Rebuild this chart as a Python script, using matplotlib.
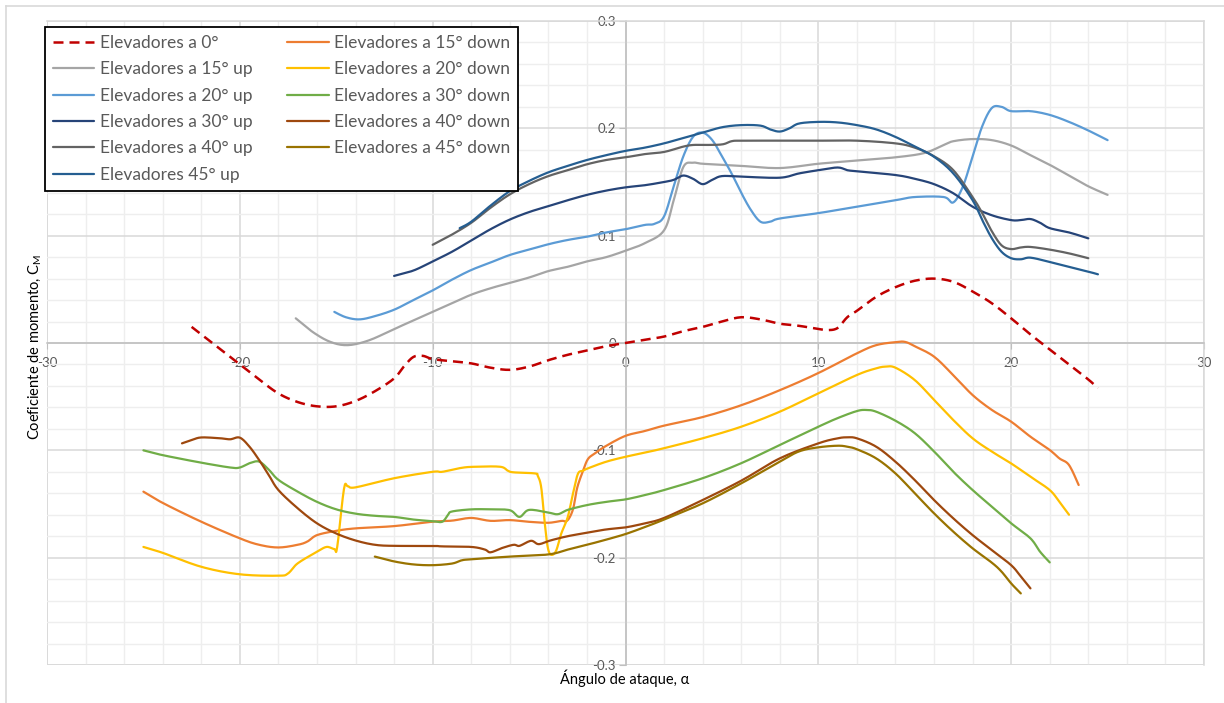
import numpy as np
import matplotlib
matplotlib.use("Agg")
import matplotlib.pyplot as plt
from matplotlib.lines import Line2D
from matplotlib.ticker import MultipleLocator, FuncFormatter

plt.rcParams['font.family'] = ['Lato', 'DejaVu Sans']

# ---- Moment coefficient vs angle of attack, one series per elevator deflection ----
a_0 = [-22.5, -21, -20, -19, -18, -17, -16, -15, -14, -13, -12, -11.5, -11, -10.5, -10, -9, -8, -7, -6, -5,
       -4, -3, -2, -1, 0, 1, 2, 3, 4, 5, 6, 7, 8, 9, 10, 10.5, 11, 11.5, 12, 13, 14, 15, 16, 17, 18, 19,
       20, 21, 22, 23, 24, 24.5]
cm_0 = [0.015, -0.006, -0.020, -0.034, -0.047, -0.055, -0.059, -0.059, -0.054, -0.045, -0.033, -0.022, -0.013,
        -0.012, -0.015, -0.017, -0.019, -0.023, -0.025, -0.022, -0.016, -0.011, -0.007, -0.003, 0.0, 0.003,
        0.006, 0.011, 0.015, 0.020, 0.024, 0.022, 0.018, 0.016, 0.013, 0.012, 0.014, 0.024, 0.030, 0.043,
        0.052, 0.058, 0.060, 0.057, 0.048, 0.037, 0.023, 0.008, -0.006, -0.020, -0.034, -0.042]

a_15u = [-17.1, -16.2, -15.3, -14.4, -13.3, -12, -11, -10, -9, -8, -7, -6, -5, -4, -3, -2, -1, 0, 1, 2,
         2.5, 3, 3.5, 4, 6, 8, 10, 12, 14, 15.5, 16.5, 17, 18, 19, 20, 21, 22, 23, 24, 25]
cm_15u = [0.023, 0.010, 0.001, -0.002, 0.0025, 0.013, 0.021, 0.029, 0.037, 0.045, 0.051, 0.056, 0.061, 0.067,
          0.071, 0.076, 0.080, 0.086, 0.093, 0.105, 0.133, 0.164, 0.168, 0.167, 0.165, 0.163, 0.167, 0.170,
          0.173, 0.177, 0.1845, 0.188, 0.190, 0.189, 0.184, 0.175, 0.166, 0.156, 0.146, 0.138]

a_20u = [-15.1, -14.5, -13.8, -13, -12, -11, -10, -9, -8, -7, -6, -5, -4, -3, -2, -1, 0, 1, 1.5, 2, 2.5, 3,
         3.5, 4, 4.5, 5, 5.5, 6, 6.5, 7, 7.5, 8, 10, 12, 14, 15, 16.5, 17, 17.5, 18, 18.5, 19, 19.5, 20, 21,
         22, 23, 24, 25]
cm_20u = [0.029, 0.024, 0.022, 0.025, 0.031, 0.040, 0.049, 0.059, 0.068, 0.075, 0.082, 0.087, 0.092, 0.096,
          0.099, 0.103, 0.106, 0.110, 0.111, 0.118, 0.146, 0.174, 0.192, 0.196, 0.189, 0.174, 0.158, 0.140,
          0.124, 0.113, 0.113, 0.116, 0.121, 0.127, 0.133, 0.136, 0.136, 0.131, 0.146, 0.174, 0.202, 0.219,
          0.220, 0.216, 0.216, 0.2125, 0.206, 0.198, 0.189]

a_30u = [-12, -11, -10, -9, -8, -7, -6, -5, -4, -3, -2, -1, 0, 1, 2, 2.5, 3, 3.5, 4, 4.5, 5, 6, 8, 9, 10, 11,
         11.5, 12, 14, 15, 16, 17, 18, 19, 20, 20.5, 21, 21.5, 22, 23, 24]
cm_30u = [0.0625, 0.0675, 0.076, 0.085, 0.0955, 0.106, 0.115, 0.122, 0.1275, 0.133, 0.138, 0.142, 0.145, 0.147,
          0.150, 0.152, 0.156, 0.153, 0.148, 0.152, 0.1555, 0.155, 0.154, 0.158, 0.161, 0.1635, 0.161, 0.160,
          0.1565, 0.153, 0.148, 0.1395, 0.127, 0.119, 0.1145, 0.1145, 0.1155, 0.112, 0.107, 0.103, 0.0975]

a_40u = [-10, -9, -8, -7, -6, -5, -4, -3, -2, -1, 0, 1, 2, 3, 3.5, 4, 5, 5.5, 6, 8, 10, 12, 14, 15, 16, 17,
         18, 18.5, 19, 19.5, 20, 20.5, 21, 22, 23, 24]
cm_40u = [0.0915, 0.101, 0.112, 0.126, 0.1385, 0.148, 0.1555, 0.161, 0.1665, 0.1705, 0.173, 0.176, 0.178, 0.183,
          0.1845, 0.1845, 0.185, 0.188, 0.1885, 0.1885, 0.1885, 0.1885, 0.186, 0.182, 0.174, 0.161, 0.136,
          0.121, 0.104, 0.091, 0.0875, 0.089, 0.0895, 0.087, 0.0835, 0.079]

a_45u = [-8.6, -8, -7, -6, -5, -4, -3, -2, -1, 0, 1, 2, 3, 4, 5, 6, 7, 7.5, 8, 8.5, 9, 10, 11, 12, 13, 14, 15,
         16, 17, 18, 18.5, 19, 19.5, 20, 20.5, 21, 22, 23, 24, 24.5]
cm_45u = [0.107, 0.113, 0.128, 0.1415, 0.151, 0.159, 0.165, 0.1705, 0.175, 0.179, 0.182, 0.186, 0.191, 0.196,
          0.201, 0.203, 0.2025, 0.199, 0.197, 0.200, 0.2045, 0.206, 0.2055, 0.203, 0.199, 0.192, 0.183, 0.1735,
          0.158, 0.133, 0.1145, 0.0975, 0.085, 0.079, 0.078, 0.0795, 0.0755, 0.071, 0.0665, 0.064]

a_15d = [-25, -24, -22, -20, -19, -18, -17, -16.5, -16, -15, -14, -12, -10, -9, -8, -7, -6, -5, -4, -3.3,
         -3.1, -2.9, -2.7, -2.5, -2.2, -1.95, -1.6, -1, 0, 1, 2, 4, 6, 8, 10, 12, 13, 14, 14.5, 15, 16, 17,
         18, 19, 20, 21, 22, 22.5, 23, 23.5]
cm_15d = [-0.1385, -0.149, -0.1665, -0.182, -0.188, -0.1905, -0.188, -0.185, -0.179, -0.175, -0.1727, -0.1706,
          -0.1665, -0.1655, -0.163, -0.1657, -0.165, -0.1666, -0.1675, -0.1657, -0.1663, -0.1626, -0.1533,
          -0.1346, -0.119, -0.1082, -0.103, -0.0958, -0.0865, -0.082, -0.077, -0.069, -0.058, -0.044, -0.028,
          -0.0096, -0.002, 0.0008, 0.001, -0.003, -0.0127, -0.030, -0.0485, -0.0624, -0.0733, -0.0873,
          -0.0997, -0.1075, -0.1137, -0.1323]

a_20d = [-25, -24, -22, -20, -18, -17.5, -17, -16, -15.5, -15.1, -14.95, -14.6, -14.4, -14, -12, -10, -9.5,
         -8.5, -7.8, -6.5, -6.1, -5.8, -4.7, -4.55, -4.37, -4.2, -4.03, -3.85, -3.6, -3.34, -3, -2.73, -2.47,
         -2.2, -1.95, -1, 0, 1, 2, 4, 6, 8, 10, 12, 13, 13.5, 14, 15, 16, 17, 18, 19, 20, 21, 22, 22.5, 23]
cm_20d = [-0.190, -0.1955, -0.2085, -0.2155, -0.2168, -0.2147, -0.2053, -0.1945, -0.190, -0.192, -0.190,
          -0.136, -0.1335, -0.1345, -0.126, -0.120, -0.120, -0.1163, -0.1153, -0.1153, -0.119, -0.1205,
          -0.1215, -0.1237, -0.1346, -0.1657, -0.1905, -0.1973, -0.1936, -0.178, -0.1625, -0.1408, -0.122,
          -0.119, -0.1168, -0.1106, -0.106, -0.1022, -0.098, -0.0888, -0.078, -0.064, -0.0469, -0.0298,
          -0.0236, -0.022, -0.023, -0.0345, -0.053, -0.0718, -0.0888, -0.1012, -0.1122, -0.1246, -0.137,
          -0.148, -0.160]

a_30d = [-25, -24, -22, -20.5, -20, -19.5, -19, -18.5, -18, -17, -16, -15, -14, -13, -12, -11, -10, -9.5,
         -9.2, -9, -8, -7, -6, -5.5, -5, -4, -3.5, -3, -2, -1, 0, 1, 2, 4, 6, 8, 10, 11, 12, 12.5, 13, 14,
         15, 16, 17, 18, 19, 20, 21, 21.5, 22]
cm_30d = [-0.100, -0.1045, -0.1115, -0.116, -0.116, -0.112, -0.1105, -0.118, -0.1275, -0.1385, -0.148, -0.155,
          -0.159, -0.161, -0.162, -0.1645, -0.166, -0.1665, -0.160, -0.157, -0.155, -0.155, -0.1558, -0.162,
          -0.1555, -0.158, -0.1595, -0.1555, -0.151, -0.148, -0.1457, -0.1417, -0.137, -0.126, -0.112,
          -0.095, -0.078, -0.070, -0.0634, -0.0624, -0.064, -0.0724, -0.084, -0.101, -0.120, -0.137,
          -0.1525, -0.168, -0.182, -0.1945, -0.2044]

a_40d = [-23, -22.5, -22, -21, -20.5, -20, -19.5, -19, -18.5, -18, -17, -16, -15, -14, -13, -12, -10, -9.5,
         -8, -7.3, -7, -6.4, -5.8, -5.5, -4.9, -4.5, -3.9, -3, -2, -1, 0, 1, 2, 4, 6, 8, 10, 11, 11.5, 12,
         13, 14, 15, 16, 17, 18, 19, 20, 20.5, 21]
cm_40d = [-0.0935, -0.0905, -0.088, -0.0888, -0.0897, -0.0882, -0.0966, -0.109, -0.123, -0.137, -0.154, -0.168,
          -0.1775, -0.184, -0.188, -0.189, -0.189, -0.1895, -0.190, -0.1924, -0.195, -0.191, -0.188, -0.189,
          -0.1843, -0.1874, -0.184, -0.180, -0.1768, -0.1737, -0.1718, -0.168, -0.163, -0.1463, -0.1283,
          -0.1075, -0.0935, -0.0888, -0.0879, -0.0888, -0.0966, -0.1106, -0.1277, -0.1463, -0.1634, -0.179,
          -0.193, -0.207, -0.2175, -0.2286]

a_45d = [-13, -12, -11, -10, -9, -8.5, -8, -6, -4, -3, -2, -1, 0, 1, 2, 4, 6, 8, 9, 10, 11, 11.5, 12, 13, 14,
         15, 16, 17, 18, 19, 19.5, 20, 20.5]
cm_45d = [-0.199, -0.2035, -0.2063, -0.207, -0.2055, -0.2025, -0.2015, -0.199, -0.197, -0.1925, -0.188,
          -0.1832, -0.178, -0.1715, -0.1645, -0.1494, -0.1308, -0.1106, -0.101, -0.0972, -0.0957, -0.0966,
          -0.099, -0.1075, -0.1215, -0.140, -0.1587, -0.1758, -0.1913, -0.2047, -0.213, -0.224, -0.2333]

series = [
    ("Elevadores a 0°", a_0, cm_0, "#C00000"),
    ("Elevadores a 15° up", a_15u, cm_15u, "#A5A5A5"),
    ("Elevadores a 20° up", a_20u, cm_20u, "#5B9BD5"),
    ("Elevadores a 30° up", a_30u, cm_30u, "#264478"),
    ("Elevadores a 40° up", a_40u, cm_40u, "#636363"),
    ("Elevadores 45° up", a_45u, cm_45u, "#255E91"),
    ("Elevadores a 15° down", a_15d, cm_15d, "#ED7D31"),
    ("Elevadores a 20° down", a_20d, cm_20d, "#FFC000"),
    ("Elevadores a 30° down", a_30d, cm_30d, "#70AD47"),
    ("Elevadores a 40° down", a_40d, cm_40d, "#9E480E"),
    ("Elevadores a 45° down", a_45d, cm_45d, "#997300"),
]


def smooth_line(x, y, n=10):
    """Catmull-Rom curve through the points (smoothed-line rendering)."""
    p = np.column_stack([x, y]).astype(float)
    p = np.vstack([p[0], p, p[-1]])
    out = []
    t = np.linspace(0, 1, n, endpoint=False)[:, None]
    for i in range(1, len(p) - 2):
        p0, p1, p2, p3 = p[i - 1], p[i], p[i + 1], p[i + 2]
        seg = 0.5 * ((2 * p1) + (-p0 + p2) * t + (2 * p0 - 5 * p1 + 4 * p2 - p3) * t ** 2
                     + (-p0 + 3 * p1 - 3 * p2 + p3) * t ** 3)
        out.append(seg)
    out.append(p[-2][None, :])
    out = np.vstack(out)
    return out[:, 0], out[:, 1]


W, H = 1224, 703
fig = plt.figure(figsize=(W / 100, H / 100), dpi=100)
ax = fig.add_axes([47 / W, 1 - 665 / H, (1204 - 47) / W, (665 - 21) / H])

ax.set_xlim(-30, 30)
ax.set_ylim(-0.3, 0.3)
ax.xaxis.set_major_locator(MultipleLocator(10))
ax.xaxis.set_minor_locator(MultipleLocator(2))
ax.yaxis.set_major_locator(MultipleLocator(0.1))
ax.yaxis.set_minor_locator(MultipleLocator(0.02))
ax.grid(which='minor', color='#EEEEEE', lw=1.0, zorder=0)
ax.grid(which='major', color='#D9D9D9', lw=1.1, zorder=0)
ax.set_axisbelow(True)

for s in ('top', 'right'):
    ax.spines[s].set_color('#D9D9D9')
    ax.spines[s].set_linewidth(1.1)
for s in ('left', 'bottom'):
    ax.spines[s].set_position('zero')
    ax.spines[s].set_color('#BFBFBF')
    ax.spines[s].set_linewidth(1.1)
ax.axvline(-30, color='#D9D9D9', lw=1.1, zorder=0)
ax.axhline(-0.3, color='#D9D9D9', lw=1.1, zorder=0)

ax.xaxis.set_major_formatter(FuncFormatter(lambda v, p: f"{v:g}".replace('\u2212', '-')))
ax.yaxis.set_major_formatter(FuncFormatter(lambda v, p: "0" if abs(v) < 1e-9 else f"{v:.1f}"))
ax.tick_params(axis='both', which='major', colors='#BFBFBF', labelcolor='#595959', labelsize=9.5)
ax.tick_params(axis='x', which='major', length=4, pad=6)
ax.tick_params(axis='y', which='major', length=5, pad=2)
ax.tick_params(which='minor', length=0)

handles = []
for label, xs, ys, col in series:
    sx, sy = smooth_line(xs, ys)
    if label == "Elevadores a 0°":
        ln, = ax.plot(sx, sy, color=col, lw=1.8, dashes=(4, 2.4), label=label, zorder=3,
                      solid_capstyle='butt', dash_capstyle='butt')
    else:
        ln, = ax.plot(sx, sy, color=col, lw=1.6, label=label, zorder=3, solid_capstyle='round')
    handles.append(ln)

leg = fig.legend(handles=handles, loc='upper left', bbox_to_anchor=(45 / W, 1 - 27 / H), ncol=2,
                 fontsize=12.5, frameon=True, fancybox=False, framealpha=1, edgecolor='black',
                 handlelength=2.4, handletextpad=0.3, columnspacing=2.0, labelspacing=0.6,
                 borderpad=0.45, borderaxespad=0)
leg.get_frame().set_linewidth(1.3)
for t in leg.get_texts():
    t.set_color('#595959')

fig.text(35 / W, 1 - 347 / H, "Coeficiente de momento, C$_\\mathregular{M}$", rotation=90,
         ha='center', va='center', fontsize=10.5, color='black')
fig.text(625 / W, 1 - 678 / H, "Ángulo de ataque, α", ha='center', va='center', fontsize=10.5,
         color='black')

# light frame around the chart area
fig.add_artist(Line2D([5.5 / W, 1.0], [1 - 5.5 / H, 1 - 5.5 / H], transform=fig.transFigure,
                      color='#D9D9D9', lw=1.2))
fig.add_artist(Line2D([5.5 / W, 5.5 / W], [0, 1 - 5.5 / H], transform=fig.transFigure,
                      color='#D9D9D9', lw=1.2))

fig.savefig("out.png", dpi=100)
